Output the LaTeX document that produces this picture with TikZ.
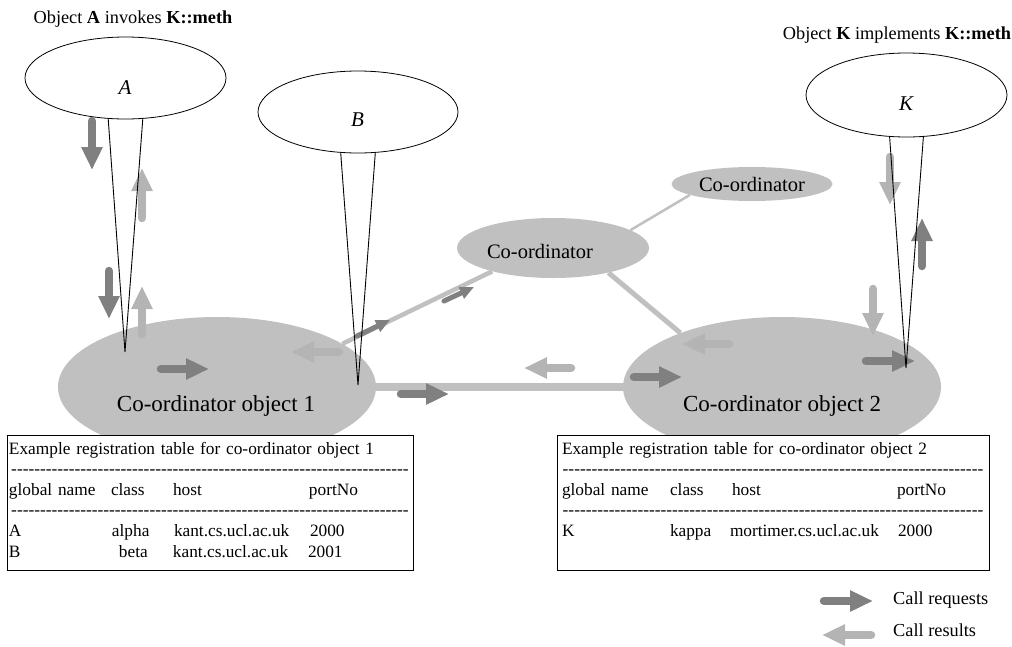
\documentclass[tikz,border=0pt]{standalone}
\usepackage{fontspec}
\setmainfont{Liberation Serif}
\usetikzlibrary{shapes.geometric,arrows.meta}
\definecolor{reqgray}{RGB}{128,128,128}
\definecolor{resgray}{RGB}{180,180,180}
\definecolor{coordgray}{RGB}{192,192,192}
\newcommand{\colat}[2]{\leavevmode\rlap{\hspace*{#1}#2}}
\newcommand{\hyphenline}{\leavevmode\hbox to\linewidth{\cleaders\hbox{-}\hfill}}
\begin{document}
\begin{tikzpicture}[x=1pt, y=-1pt,
		objell/.style={ellipse, draw, fill=white, line width=0.8pt, inner sep=0pt},
		objlabel/.style={font=\fontsize{21}{24}\selectfont\itshape},
		coordell/.style={ellipse, fill=coordgray, inner sep=0pt},
		coordlabel/.style={font=\fontsize{23}{27}\selectfont},
		link/.style={coordgray},
		req/.style={reqgray, line width=8.5pt, line cap=round, -{Triangle[length=23pt, width=20pt]}},
		res/.style={resgray, line width=8.5pt, line cap=round, -{Triangle[length=23pt, width=20pt]}},
		smallreq/.style={reqgray, line width=5pt, line cap=round, -{Triangle[length=14pt, width=12pt]}},
		regtable/.style={draw, fill=white, line width=1pt, align=left, minimum height=135pt, font=\fontsize{17.3}{20.6}\selectfont},
		caption/.style={font=\fontsize{18.3}{22}\selectfont}]
		\useasboundingbox (0,0) rectangle (1012,646);

		% co-ordinators
		\node[coordell, minimum width=318pt, minimum height=140pt] (obj1) at (217,387) {};
		\node[coordell, minimum width=318pt, minimum height=140pt] (obj2) at (782,387) {};
		\node[coordell, minimum width=192pt, minimum height=60pt] (coord) at (553,248) {};
		\node[coordell, minimum width=161pt, minimum height=34pt, font=\fontsize{20.5}{24}\selectfont] (small) at (752,184) {Co-ordinator};
		\node[coordlabel] (obj1lab) at (216,406) {Co-ordinator object 1};
		\node[coordlabel] (obj2lab) at (782,406) {Co-ordinator object 2};
		\node[font=\fontsize{20.5}{24}\selectfont] (coordlab) at (540,251) {Co-ordinator};

		\draw[link, line width=8pt] (obj1.east) -- (obj2.west);
		\draw[link, line width=4.5pt] (obj1.19) -- (coord.201);
		\draw[link, line width=5pt] (coord.336) -- (obj2.152);
		\draw[link, line width=2.5pt] (coord.13) -- (small.190);

		% objects
		\node[objell, minimum width=201pt, minimum height=82pt] (A) at (125.5,78) {};
		\node[objell, minimum width=200pt, minimum height=82pt] (B) at (358,112) {};
		\node[objell, minimum width=201pt, minimum height=84pt] (K) at (906.5,95) {};
		\node[objlabel] (Alab) at (125,88) {A};
		\node[objlabel] (Blab) at (357.5,120) {B};
		\node[objlabel] (Klab) at (906,104) {K};

		% call requests and results
		\foreach \xa/\ya/\xb/\yb in {92/121/92/170, 109/271/109/319, 161/369/209/369, 401/394/449/394,
				634/377/682/377, 866/361/915/361, 922/266/922/218, 824/601/873/601}
			\draw[req] (\xa,\ya) -- (\xb,\yb);
		\foreach \xa/\ya/\xb/\yb in {142/218/142/168, 142/334/142/286, 339/352/291/352, 571/368/524/368,
				729/344/682/344, 873/289/873/336, 890/157/890/205, 871/635/822/635}
			\draw[res] (\xa,\ya) -- (\xb,\yb);
		\draw[smallreq] (357,336) -- (390,320);
		\draw[smallreq] (444,301) -- (474,287);

		\coordinate (apexA) at (125,352);
		\coordinate (apexB) at (358,385);
		\coordinate (apexK) at (906,368);
		\draw[line width=0.9pt] (A.247) -- (apexA) -- (A.293);
		\draw[line width=0.9pt] (B.247) -- (apexB) -- (B.293);
		\draw[line width=0.9pt] (K.248) -- (apexK) -- (K.292);

		% registration tables
		\node[regtable, inner xsep=2pt, text width=402pt] (tab1) at (210,502.5) {%
			Example registration table for co-ordinator object 1\\
			\hyphenline\\
			\colat{0pt}{global name}\colat{102pt}{class}\colat{164pt}{host}\colat{300pt}{portNo}\\
			\hyphenline\\
			\colat{0pt}{A}\colat{103pt}{alpha}\colat{165pt}{kant.cs.ucl.ac.uk}\colat{301pt}{2000}\\
			\colat{0pt}{B}\colat{110pt}{beta}\colat{164pt}{kant.cs.ucl.ac.uk}\colat{299pt}{2001}\strut};
		\node[regtable, inner xsep=5pt, text width=422pt] (tab2) at (773,502.5) {%
			Example registration table for co-ordinator object 2\\
			\hyphenline\\
			\colat{0pt}{global name}\colat{108pt}{class}\colat{170pt}{host}\colat{335pt}{portNo}\\
			\hyphenline\\
			\colat{0pt}{K}\colat{108pt}{kappa}\colat{168pt}{mortimer.cs.ucl.ac.uk}\colat{336pt}{2000}\\
			\leavevmode\strut};

		\node[caption] (titleA) at (133,19) {Object \textbf{A} invokes \textbf{K::meth}};
		\node[caption] (titleK) at (897,35) {Object \textbf{K} implements \textbf{K::meth}};
		\node[caption, anchor=west, inner sep=0pt] (reqtext) at (893,600) {Call requests};
		\node[caption, anchor=west, inner sep=0pt] (restext) at (893,630) {Call results};
	\end{tikzpicture}
\end{document}
